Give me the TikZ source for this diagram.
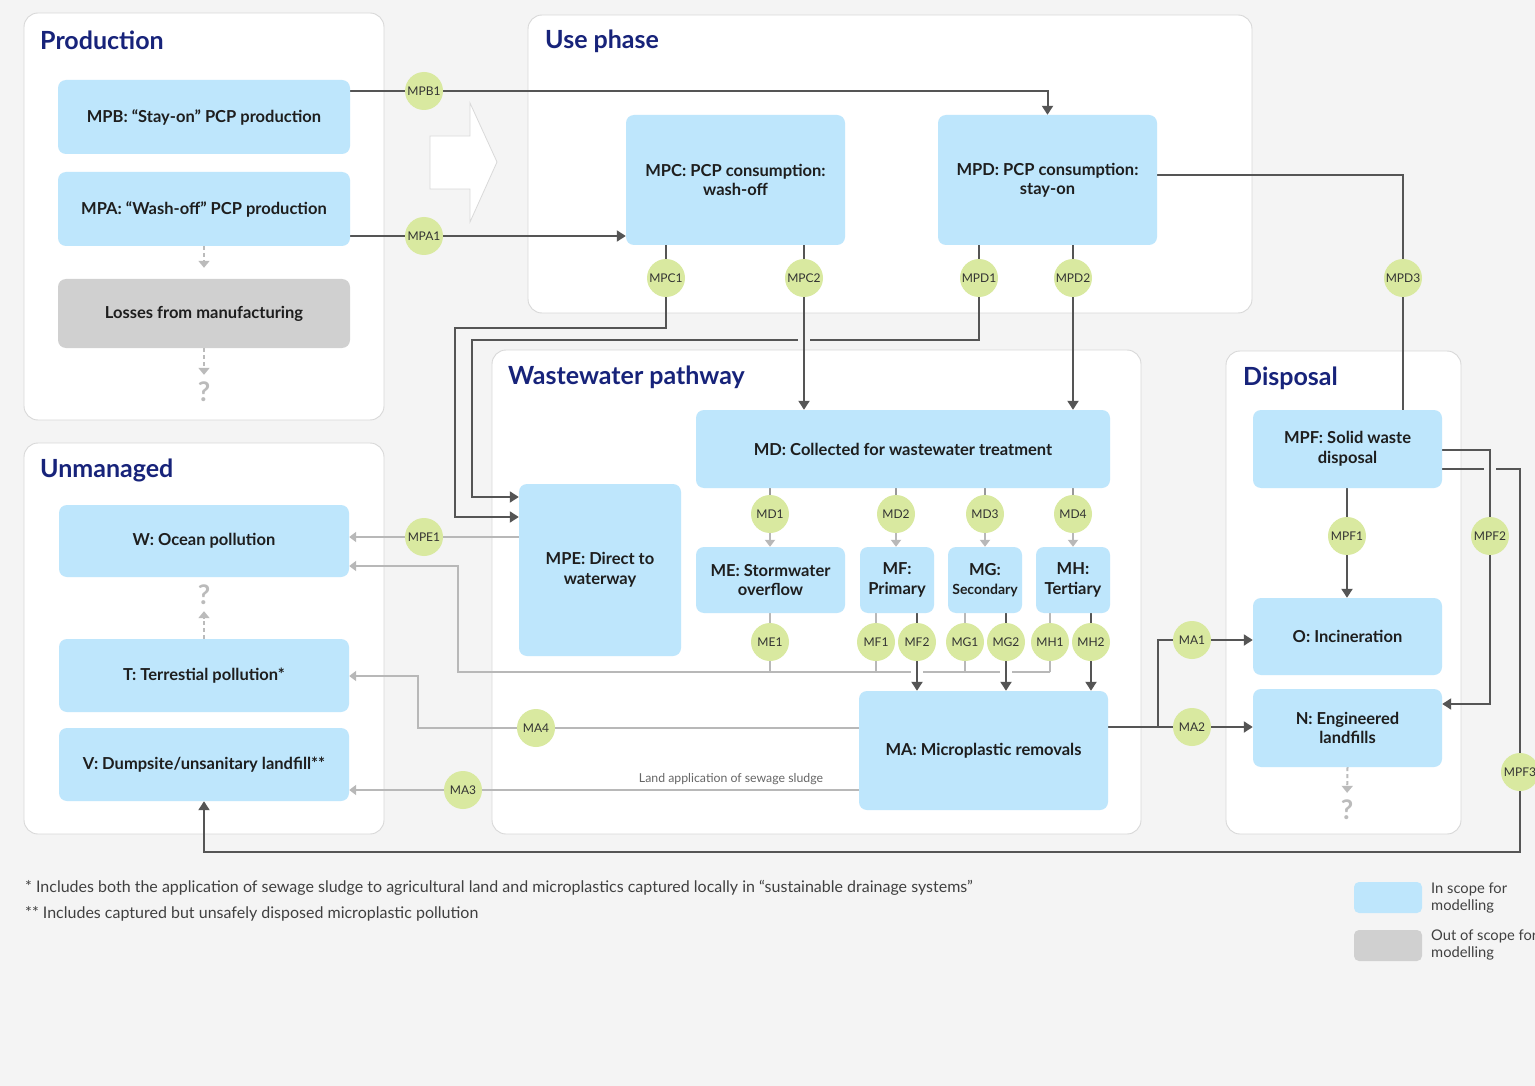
\documentclass[tikz,border=0pt]{standalone}
\usepackage{fontspec}
\setmainfont{Lato}
\usetikzlibrary{arrows.meta,calc}
\definecolor{bgc}{HTML}{F4F4F4}
\definecolor{boxblue}{HTML}{BEE6FC}
\definecolor{boxgray}{HTML}{D0D0D0}
\definecolor{circg}{HTML}{D9E9A0}
\definecolor{navy}{HTML}{17237A}
\definecolor{darkl}{HTML}{555555}
\definecolor{lightl}{HTML}{B8B8B8}
\definecolor{midl}{HTML}{999999}
\definecolor{panelb}{HTML}{D8D8D8}
\definecolor{qgray}{HTML}{BBBBBB}
\definecolor{txt}{HTML}{1E1E1E}
\pgfdeclarelayer{back}\pgfdeclarelayer{lines}
\pgfsetlayers{back,lines,main}
\tikzset{
  panel/.style={draw=panelb, fill=white, line width=0.9pt, rounded corners=14pt},
  ptitle/.style={anchor=west, text=navy, font=\fontsize{25}{28}\selectfont\bfseries, inner sep=0},
  box/.style={fill=boxblue, rounded corners=8pt, align=center, inner sep=0, text=txt,
    font=\fontsize{16.5}{19.5}\selectfont\bfseries},
  circ/.style={circle, fill=circg, minimum size=38pt, inner sep=0, text=black!80,
    font=\fontsize{12}{13}\selectfont},
  dk/.style={draw=darkl, line width=2pt},
  lt/.style={draw=lightl, line width=2pt},
  md/.style={draw=midl, line width=2pt},
  tipd/.style={-{Triangle[length=9pt,width=11pt]}},
  tips/.style={-{Triangle[length=7pt,width=10pt]}},
  dsh/.style={draw=qgray, line width=2pt, dash pattern=on 4pt off 3pt, -{Triangle[length=7pt,width=11pt]}},
  qm/.style={text=qgray, font=\fontsize{27}{28}\selectfont\bfseries, inner sep=0},
}
\begin{document}
\begin{tikzpicture}[x=1pt,y=-1pt]
\useasboundingbox (0,0) rectangle (1535,1086);
\begin{pgfonlayer}{back}
\fill[bgc] (0,0) rectangle (1535,1086);
\draw[panel] (24,13) rectangle (384,420);
\draw[panel] (528,15) rectangle (1252,313);
\draw[panel] (24,443) rectangle (384,834);
\draw[panel] (492,350) rectangle (1141,834);
\draw[panel] (1226,351) rectangle (1461,834);
\draw[draw=black!15, fill=white, line width=0.8pt] (430,136) -- (470,136) -- (470,103) -- (497,162) -- (470,222) -- (470,189) -- (430,189) -- cycle;
\end{pgfonlayer}

% titles
\node[ptitle] (tprod) at (40,40) {Production};
\node[ptitle] (tuse) at (545,41) {Use phase};
\node[ptitle] (tunm) at (40,470) {Unmanaged};
\node[ptitle] (tww) at (508,377) {Wastewater pathway};
\node[ptitle] (tdis) at (1243,378) {Disposal};

% boxes
\node[box, minimum width=292pt, minimum height=74pt] (mpb) at (204,117) {MPB: “Stay-on” PCP production};
\node[box, minimum width=292pt, minimum height=74pt] (mpa) at (204,209) {MPA: “Wash-off” PCP production};
\node[box, fill=boxgray, minimum width=292pt, minimum height=69pt] (loss) at (204,313.5) {Losses from manufacturing};
\node[box, minimum width=219pt, minimum height=130pt] (mpc) at (735.5,180) {MPC: PCP consumption:\\wash-off};
\node[box, minimum width=219pt, minimum height=130pt] (mpd) at (1047.5,180) {MPD: PCP consumption:\\stay-on};
\node[box, minimum width=414pt, minimum height=78pt] (md) at (903,449) {MD: Collected for wastewater treatment};
\node[box, minimum width=162pt, minimum height=172pt] (mpe) at (600,570) {MPE: Direct to\\waterway};
\node[box, minimum width=149pt, minimum height=66pt] (me) at (770.5,580) {ME: Stormwater\\overflow};
\node[box, minimum width=74pt, minimum height=66pt] (mf) at (897,580) {MF:\\Primary};
\node[box, minimum width=74pt, minimum height=66pt] (mg) at (985,580) {MG:\\{\fontsize{14}{19.5}\selectfont Secondary}};
\node[box, minimum width=74pt, minimum height=66pt] (mh) at (1073,580) {MH:\\Tertiary};
\node[box, minimum width=249pt, minimum height=119pt] (ma) at (983.5,750.5) {MA: Microplastic removals};
\node[box, minimum width=189pt, minimum height=78pt] (mpf) at (1347.5,449) {MPF: Solid waste\\disposal};
\node[box, minimum width=189pt, minimum height=77pt] (o) at (1347.5,636.5) {O: Incineration};
\node[box, minimum width=189pt, minimum height=78pt] (n) at (1347.5,728) {N: Engineered\\landfills};
\node[box, minimum width=290pt, minimum height=72pt] (w) at (204,541) {W: Ocean pollution};
\node[box, minimum width=290pt, minimum height=73pt] (t) at (204,675.5) {T: Terrestial pollution*};
\node[box, minimum width=290pt, minimum height=73pt] (v) at (204,764.5) {V: Dumpsite/unsanitary landfill**};

% question marks
\node[qm] (q1) at (204,392) {?};
\node[qm] (q2) at (204,595) {?};
\node[qm] (q3) at (1347,810) {?};

% circles
\node[circ] (mpb1) at (424,91) {MPB1};
\node[circ] (mpa1) at (424,236) {MPA1};
\node[circ] (mpc1) at (666,278) {MPC1};
\node[circ] (mpc2) at (804,278) {MPC2};
\node[circ] (mpd1) at (979,278) {MPD1};
\node[circ] (mpd2) at (1073,278) {MPD2};
\node[circ] (mpd3) at (1403,278) {MPD3};
\node[circ] (md1) at (770,514) {MD1};
\node[circ] (md2) at (896,514) {MD2};
\node[circ] (md3) at (985,514) {MD3};
\node[circ] (md4) at (1073,514) {MD4};
\node[circ] (me1) at (770,642) {ME1};
\node[circ] (mf1) at (876,642) {MF1};
\node[circ] (mf2) at (917,642) {MF2};
\node[circ] (mg1) at (965,642) {MG1};
\node[circ] (mg2) at (1006,642) {MG2};
\node[circ] (mh1) at (1050,642) {MH1};
\node[circ] (mh2) at (1091,642) {MH2};
\node[circ] (mpe1) at (424,537) {MPE1};
\node[circ] (ma4) at (536,728) {MA4};
\node[circ] (ma3) at (463,790) {MA3};
\node[circ] (ma1) at (1192,640) {MA1};
\node[circ] (ma2) at (1192,727) {MA2};
\node[circ] (mpf1) at (1347,536) {MPF1};
\node[circ] (mpf2) at (1490,536) {MPF2};
\node[circ] (mpf3) at (1520,772) {MPF3};

% turning points
\coordinate (k1) at (455,328); \coordinate (k1b) at (455,517);
\coordinate (k2) at (472,340); \coordinate (k2b) at (472,497);
\coordinate (k3) at (1403,175);
\coordinate (h1) at (458,672); \coordinate (h1b) at (458,566);
\coordinate (k5) at (418,728); \coordinate (k5b) at (418,676);
\coordinate (k6) at (1158,727);
\coordinate (k7) at (1490,450); \coordinate (k7b) at (1490,704);
\coordinate (k8) at (1520,469); \coordinate (k8b) at (1520,852); \coordinate (k8c) at (204,852);

\node[text=black!60, font=\fontsize{12.3}{14}\selectfont, inner sep=0] (lbl) at (731,779) {Land application of sewage sludge};

\begin{pgfonlayer}{lines}
% production -> use
\draw[dk,tipd] (mpb.east |- mpb1) -- (mpb1) -- (mpd.north |- mpb1) -- (mpd.north);
\draw[dk,tipd] (mpa.east |- mpa1) -- (mpa1) -- (mpc.west |- mpa1);
% use phase outputs
\draw[dk,tipd] (mpc.south -| mpc1) -- (mpc1 |- k1) -- (k1) -- (k1b) -- (mpe.west |- k1b);
\draw[dk,tipd] (mpd.south -| mpd1) -- (mpd1 |- k2) -- (k2) -- (k2b) -- (mpe.west |- k2b);
\fill[bgc] ($(mpc2 |- k2)+(-6,-3)$) rectangle ($(mpc2 |- k2)+(6,3)$);
\draw[dk,tipd] (mpc.south -| mpc2) -- (md.north -| mpc2);
\draw[dk,tipd] (mpd.south -| mpd2) -- (md.north -| mpd2);
\draw[dk] (mpd.east |- k3) -- (k3) -- (mpf.north -| k3);
% MD to sub-boxes
\foreach \c/\b in {md1/me, md2/mf, md3/mg, md4/mh} {
  \draw[md] (md.south -| \c) -- (\c);
  \draw[lt,tips] (\c.south) -- (\b.north -| \c);
}
% light outputs to W
\foreach \c/\b in {me1/me, mf1/mf, mg1/mg, mh1/mh} {
  \draw[lt] (\b.south -| \c) -- (\c) -- (\c |- h1);
}
\draw[lt,tips] (mh1 |- h1) -- (h1) -- (h1b) -- (w.east |- h1b);
\fill[white] ($(mf2 |- h1)+(-6,-3)$) rectangle ($(mf2 |- h1)+(6,3)$);
\fill[white] ($(mg2 |- h1)+(-6,-3)$) rectangle ($(mg2 |- h1)+(6,3)$);
\foreach \c/\b in {mf2/mf, mg2/mg, mh2/mh} {
  \draw[dk,tipd] (\b.south -| \c) -- (\c) -- (ma.north -| \c);
}
% MPE and MA to unmanaged
\draw[lt,tips] (mpe.west |- mpe1) -- (mpe1) -- (w.east |- mpe1);
\draw[lt,tips] (ma.west |- ma4) -- (ma4) -- (k5) -- (k5b) -- (t.east |- k5b);
\draw[lt,tips] (ma.west |- ma3) -- (ma3) -- (v.east |- ma3);
% MA to disposal
\draw[dk,tipd] (ma.east |- ma2) -- (k6) -- (ma2) -- (n.west |- ma2);
\draw[dk,tipd] (k6) -- (k6 |- ma1) -- (ma1) -- (o.west |- ma1);
% MPF outputs
\draw[dk,tipd] (mpf.south -| mpf1) -- (mpf1) -- (o.north -| mpf1);
\draw[dk,tipd] (mpf.east |- k8) -- (k8) -- (k8b) -- (k8c) -- (v.south -| k8c);
\fill[bgc] ($(k7 |- k8)+(-6,-3)$) rectangle ($(k7 |- k8)+(6,3)$);
\draw[dk,tipd] (mpf.east |- k7) -- (k7) -- (k7b) -- (n.east |- k7b);
% dashed unknowns
\draw[dsh, shorten >=11pt] (mpa.south) -- (loss.north);
\draw[dsh, shorten >=7pt] (loss.south) -- (q1.north);
\draw[dsh, shorten >=6pt] (t.north) -- (q2.south);
\draw[dsh, shorten >=7pt] (n.south) -- (q3.north);
\end{pgfonlayer}

% footnotes
\node[anchor=west, inner sep=0, text=black!75, font=\fontsize{16}{18}\selectfont] (fn1) at (25,888) {* Includes both the application of sewage sludge to agricultural land and microplastics captured locally in “sustainable drainage systems”};
\node[anchor=west, inner sep=0, text=black!75, font=\fontsize{16}{18}\selectfont] (fn2) at (25,914) {** Includes captured but unsafely disposed microplastic pollution};

% legend
\node[fill=boxblue, rounded corners=5pt, minimum width=68pt, minimum height=31pt, inner sep=0] (lg1) at (1388,897.5) {};
\node[fill=boxgray, rounded corners=5pt, minimum width=68pt, minimum height=31pt, inner sep=0] (lg2) at (1388,945.5) {};
\node[anchor=west, align=left, inner sep=0, text=black!75, font=\fontsize{14.7}{17}\selectfont] (lg1t) at (1431,898) {In scope for\\modelling};
\node[anchor=west, align=left, inner sep=0, text=black!75, font=\fontsize{14.7}{17}\selectfont] (lg2t) at (1431,945) {Out of scope for\\modelling};
\end{tikzpicture}
\end{document}
